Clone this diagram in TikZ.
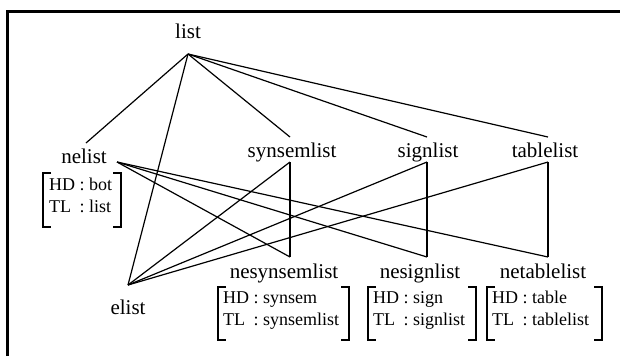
\documentclass[tikz,border=0pt]{standalone}
\usepackage{fontspec}
\setmainfont{Liberation Serif}
\tikzset{
  lbl/.style={font=\fontsize{21bp}{25bp}\selectfont, inner sep=0pt, anchor=base},
  avm/.style={font=\fontsize{18bp}{22bp}\selectfont, inner sep=0pt, anchor=west, align=left},
  boxf/.style={inner sep=0pt, outer sep=0pt, draw=none, anchor=north west},
  brk/.style={line width=1.2bp},
  edge/.style={line width=1.2bp},
  frameline/.style={line width=3bp}
}
\newcommand{\brackets}[1]{%
  \draw[brk] ([xshift=8bp]#1.north west) -- (#1.north west) -- (#1.south west) -- ([xshift=8bp]#1.south west);
  \draw[brk] ([xshift=-8bp]#1.north east) -- (#1.north east) -- (#1.south east) -- ([xshift=-8bp]#1.south east);
}
\begin{document}
\begin{tikzpicture}[x=1bp,y=-1bp]
\useasboundingbox (0,0) rectangle (620,356);
\fill[white] (0,0) rectangle (620,356);
\draw[frameline] (7.5,356) -- (7.5,11.5) -- (620,11.5);

% labels
\node[lbl] (list) at (188,38) {list};
\node[lbl] (nelist) at (84,163) {nelist};
\node[lbl] (synsemlist) at (292,157) {synsemlist};
\node[lbl] (signlist) at (428,157) {signlist};
\node[lbl] (tablelist) at (545,157) {tablelist};
\node[lbl] (nesynsemlist) at (284,278) {nesynsemlist};
\node[lbl] (nesignlist) at (420,278) {nesignlist};
\node[lbl] (netablelist) at (543,278) {netablelist};
\node[lbl] (elist) at (128,314) {elist};

% connection points
\coordinate (listB) at (188,54);
\coordinate (nelistT) at (86,143);
\coordinate (nelistR) at (117,162);
\coordinate (elistT) at (128,285);
\coordinate (synT) at (290,137);
\coordinate (synB) at (290,162);
\coordinate (nesynT) at (290,257);
\coordinate (signT) at (427,137);
\coordinate (signB) at (427,162);
\coordinate (nesignT) at (427,257);
\coordinate (tableT) at (548,137);
\coordinate (tableB) at (548,162);
\coordinate (netableT) at (548,257);

% edges
\draw[edge] (listB) -- (nelistT);
\draw[edge] (listB) -- (elistT);
\draw[edge] (listB) -- (synT);
\draw[edge] (listB) -- (signT);
\draw[edge] (listB) -- (tableT);
\draw[edge] (nelistR) -- (nesynT);
\draw[edge] (nelistR) -- (nesignT);
\draw[edge] (nelistR) -- (netableT);
\draw[edge] (elistT) -- (synB);
\draw[edge] (elistT) -- (signB);
\draw[edge] (elistT) -- (tableB);
\draw[edge] (synB) -- (nesynT);
\draw[edge] (signB) -- (nesignT);
\draw[edge] (tableB) -- (netableT);

% feature boxes
\node[boxf, minimum width=78bp, minimum height=54bp] (nlbox) at (43,173) {};
\brackets{nlbox}
\node[avm] (nlavm) at ([xshift=6bp,yshift=3bp]nlbox.west) {\begin{tabular}{@{}l@{ : }l@{}}HD & bot\\TL & list\end{tabular}};

\node[boxf, minimum width=131bp, minimum height=53bp] (nsbox) at (218,287) {};
\brackets{nsbox}
\node[avm] (nsavm) at ([xshift=5bp,yshift=3bp]nsbox.west) {\begin{tabular}{@{}l@{ : }l@{}}HD & synsem\\TL & synsemlist\end{tabular}};

\node[boxf, minimum width=108bp, minimum height=53bp] (ngbox) at (368,287) {};
\brackets{ngbox}
\node[avm] (ngavm) at ([xshift=5bp,yshift=3bp]ngbox.west) {\begin{tabular}{@{}l@{ : }l@{}}HD & sign\\TL & signlist\end{tabular}};

\node[boxf, minimum width=115bp, minimum height=53bp] (ntbox) at (487,287) {};
\brackets{ntbox}
\node[avm] (ntavm) at ([xshift=5bp,yshift=3bp]ntbox.west) {\begin{tabular}{@{}l@{ : }l@{}}HD & table\\TL & tablelist\end{tabular}};
\end{tikzpicture}
\end{document}
